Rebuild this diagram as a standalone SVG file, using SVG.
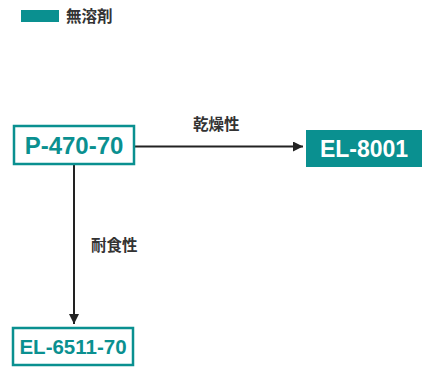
<svg xmlns="http://www.w3.org/2000/svg" width="425" height="371" viewBox="0 0 425 371">
<defs>
<style>
.lbl{font-family:"Liberation Sans","Noto Sans CJK JP",sans-serif;font-size:15.5px;font-weight:bold;fill:#333333}
.nt{font-family:"Liberation Sans",Arial,sans-serif;font-weight:bold;text-anchor:middle}
.ob{fill:#ffffff;stroke:#0a9090;stroke-width:2.5}
.fb{fill:#0a9090}
.cn{stroke:#222222;stroke-width:2;fill:none}
</style>
<marker id="ah" markerWidth="10" markerHeight="10" refX="10" refY="5" orient="auto" markerUnits="userSpaceOnUse">
<path d="M0,0 L10,5 L0,10 Z" fill="#222222"/>
</marker>
</defs>
<rect width="425" height="371" fill="#ffffff"/>
<g id="legend">
<rect x="21" y="10" width="38" height="12" class="fb"/>
<text x="66" y="22" class="lbl">無溶剤</text>
</g>
<g id="connectors">
<line x1="135" y1="146.5" x2="303" y2="146.5" class="cn" marker-end="url(#ah)"/>
<line x1="74" y1="165" x2="74" y2="324" class="cn" marker-end="url(#ah)"/>
<text x="193" y="130" class="lbl">乾燥性</text>
<text x="91" y="251" class="lbl">耐食性</text>
</g>
<g id="node-p470">
<rect x="14" y="126" width="120" height="38" class="ob"/>
<text x="74" y="154" class="nt" fill="#0a9090" style="font-size:24px">P-470-70</text>
</g>
<g id="node-el8001">
<rect x="306" y="130" width="116" height="37" class="fb"/>
<text x="364" y="156.5" class="nt" fill="#ffffff" style="font-size:23px">EL-8001</text>
</g>
<g id="node-el6511">
<rect x="13" y="328" width="120" height="37" class="ob"/>
<text x="73" y="354" class="nt" fill="#0a9090" style="font-size:20.5px">EL-6511-70</text>
</g>
</svg>
